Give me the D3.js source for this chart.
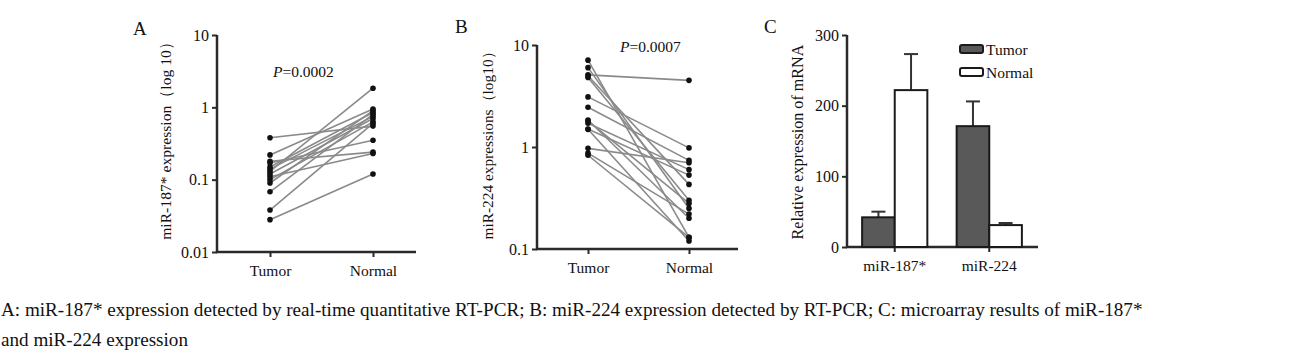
<!DOCTYPE html>
<html>
<head>
<meta charset="utf-8">
<script src="https://cdn.jsdelivr.net/npm/d3@7"></script>
<style>
body{margin:0;background:#fff;}
svg{display:block;}
</style>
</head>
<body>
<svg id="chart" width="1294" height="355"></svg>
<script>
const FONT = "Liberation Serif";
// ---- Data ----
const groups = ["Tumor", "Normal"];
// Panel A: miR-187* paired expression (log scale)
const aTumor  = [0.38, 0.22, 0.18, 0.17, 0.15, 0.14, 0.13, 0.12, 0.11, 0.10, 0.09, 0.068, 0.038, 0.028];
const aNormal = [0.55, 0.95, 0.24, 0.35, 0.85, 0.75, 1.84, 0.70, 0.23, 0.63, 0.90, 0.80, 0.60, 0.12];
const aTicks = [0.01, 0.1, 1, 10];
const aTickLabels = ["0.01", "0.1", "1", "10"];
// Panel B: miR-224 paired expression (log scale)
const bTumor  = [7.1, 6.0, 5.1, 4.8, 3.1, 2.45, 1.84, 1.71, 1.49, 0.97, 0.87, 0.83, 5.0, 1.5, 1.8];
const bNormal = [0.13, 0.25, 4.5, 0.30, 0.98, 0.74, 0.20, 0.60, 0.12, 0.70, 0.22, 0.13, 0.43, 0.53, 0.28];
const bTicks = [0.1, 1, 10];
const bTickLabels = ["0.1", "1", "10"];
// Panel C: microarray results
const cCategories = ["miR-187*", "miR-224"];
const cTumor = [42, 171];
const cTumorErr = [8, 35];
const cNormal = [222, 31];
const cNormalErr = [51, 3];
const cTicks = [0, 100, 200, 300];

const svg = d3.select("#chart");
const axisColor = "#2a2a2a";

function txt(sel, size){
  return sel.attr("font-family", FONT).attr("font-size", size).attr("fill", "#111");
}

function styleAxis(g, size){
  g.attr("font-family", FONT).attr("font-size", size);
  g.selectAll("path.domain").remove();
  g.selectAll("line").attr("stroke", axisColor).attr("stroke-width", 2);
  txt(g.selectAll("text"), size);
}

function fitVertical(sel, len){
  const w = sel.node().getComputedTextLength();
  const s = +sel.attr("font-size");
  sel.attr("font-size", s * len / w);
}

function pairedPanel(opt){
  const y = d3.scaleLog().domain(opt.domain).range([opt.yBottom, opt.yTop]);
  const x = d3.scalePoint().domain(groups).range([opt.xT, opt.xN]);
  const g = svg.append("g");
  const ya = g.append("g").attr("transform", `translate(${opt.x0},0)`)
    .call(d3.axisLeft(y).tickValues(opt.ticks).tickFormat((d,i)=>opt.tickLabels[i]).tickSize(5).tickPadding(3));
  styleAxis(ya, 16);
  const xa = g.append("g").attr("transform", `translate(0,${opt.yBottom})`)
    .call(d3.axisBottom(x).tickSize(5).tickPadding(8));
  styleAxis(xa, 15.5);
  g.append("line").attr("x1", opt.x0).attr("x2", opt.x0).attr("y1", opt.yTop).attr("y2", opt.yBottom+1)
    .attr("stroke", axisColor).attr("stroke-width", 2.5);
  g.append("line").attr("x1", opt.x0-1).attr("x2", opt.x1).attr("y1", opt.yBottom).attr("y2", opt.yBottom)
    .attr("stroke", axisColor).attr("stroke-width", 2.5);
  opt.tumor.forEach((t,i)=>{
    g.append("line").attr("x1", x("Tumor")).attr("y1", y(t)).attr("x2", x("Normal")).attr("y2", y(opt.normal[i]))
      .attr("stroke", "#8a8a8a").attr("stroke-width", 1.6);
  });
  opt.tumor.forEach(t=> g.append("circle").attr("cx", x("Tumor")).attr("cy", y(t)).attr("r", 2.8).attr("fill", "#111"));
  opt.normal.forEach(n=> g.append("circle").attr("cx", x("Normal")).attr("cy", y(n)).attr("r", 2.8).attr("fill", "#111"));
  const title = txt(g.append("text").attr("transform", `translate(${opt.titleX},${opt.titleY}) rotate(-90)`)
    .attr("text-anchor", "middle"), 16).text(opt.title);
  fitVertical(title, opt.titleLen);
  const p = txt(g.append("text").attr("x", opt.pX).attr("y", opt.pY), 15.5);
  p.append("tspan").attr("font-style", "italic").text("P");
  p.append("tspan").text(opt.pText);
  txt(g.append("text").attr("x", opt.labX).attr("y", opt.labY), 19).text(opt.label);
}

pairedPanel({
  domain:[0.01,10], yBottom:252, yTop:35, x0:217, x1:416, xT:270, xN:373,
  ticks:aTicks, tickLabels:aTickLabels, tumor:aTumor, normal:aNormal,
  title:"miR-187* expression（log 10）", titleX:171, titleY:137, titleLen:205,
  pX:273, pY:77, pText:"=0.0002", label:"A", labX:133, labY:35
});

pairedPanel({
  domain:[0.1,10], yBottom:249, yTop:45, x0:537, x1:738, xT:588, xN:689,
  ticks:bTicks, tickLabels:bTickLabels, tumor:bTumor, normal:bNormal,
  title:"miR-224 expressions（log10）", titleX:493, titleY:142, titleLen:196,
  pX:620, pY:52, pText:"=0.0007", label:"B", labX:455, labY:33
});

// Panel C
(function(){
  const y = d3.scaleLinear().domain([0,300]).range([247,35]);
  const x = d3.scaleBand().domain(cCategories).range([847,1037]).paddingInner(0.31).paddingOuter(0.16);
  const xs = d3.scaleBand().domain(groups).range([0, x.bandwidth()]);
  const g = svg.append("g");
  const ya = g.append("g").attr("transform", "translate(847,0)")
    .call(d3.axisLeft(y).tickValues(cTicks).tickSize(5).tickPadding(3));
  styleAxis(ya, 16);
  const xa = g.append("g").attr("transform", "translate(0,247)")
    .call(d3.axisBottom(x).tickSize(5).tickPadding(8));
  styleAxis(xa, 15.5);
  g.append("line").attr("x1", 847).attr("x2", 847).attr("y1", 35).attr("y2", 248).attr("stroke", axisColor).attr("stroke-width", 2.5);
  g.append("line").attr("x1", 846).attr("x2", 1038).attr("y1", 247).attr("y2", 247).attr("stroke", axisColor).attr("stroke-width", 2.5);
  const series = [
    {key:"Tumor", vals:cTumor, err:cTumorErr, fill:"#595959"},
    {key:"Normal", vals:cNormal, err:cNormalErr, fill:"#ffffff"}
  ];
  series.forEach(s=>{
    cCategories.forEach((c,i)=>{
      const bx = x(c) + xs(s.key), bw = xs.bandwidth();
      const cx = bx + bw/2;
      g.append("line").attr("x1", cx).attr("x2", cx).attr("y1", y(s.vals[i])).attr("y2", y(s.vals[i]+s.err[i]))
        .attr("stroke", "#333").attr("stroke-width", 2);
      g.append("line").attr("x1", cx-7).attr("x2", cx+7).attr("y1", y(s.vals[i]+s.err[i])).attr("y2", y(s.vals[i]+s.err[i]))
        .attr("stroke", "#333").attr("stroke-width", 2);
      g.append("rect").attr("x", bx).attr("y", y(s.vals[i])).attr("width", bw).attr("height", y(0)-y(s.vals[i]))
        .attr("fill", s.fill).attr("stroke", "#1a1a1a").attr("stroke-width", 2);
    });
  });
  series.forEach((s,i)=>{
    const ly = 45 + i*23;
    g.append("rect").attr("x", 960).attr("y", ly).attr("width", 23).attr("height", 8).attr("rx", 2)
      .attr("fill", s.fill).attr("stroke", "#1a1a1a").attr("stroke-width", 2);
    txt(g.append("text").attr("x", 986).attr("y", ly+10), 15.5).text(s.key);
  });
  const t = txt(g.append("text").attr("transform", "translate(803,142) rotate(-90)").attr("text-anchor", "middle"), 18)
    .text("Relative expression of mRNA");
  fitVertical(t, 195);
  txt(g.append("text").attr("x", 764).attr("y", 33), 19).text("C");
})();

// caption
const cap1 = txt(svg.append("text").attr("x", 1).attr("y", 316), 19)
  .text("A: miR-187* expression detected by real-time quantitative RT-PCR; B: miR-224 expression detected by RT-PCR; C: microarray results of miR-187*");
const w = cap1.node().getComputedTextLength();
const capSize = 19 * 1142 / w;
cap1.attr("font-size", capSize);
txt(svg.append("text").attr("x", 1).attr("y", 346), capSize)
  .text("and miR-224 expression");
</script>
</body>
</html>
